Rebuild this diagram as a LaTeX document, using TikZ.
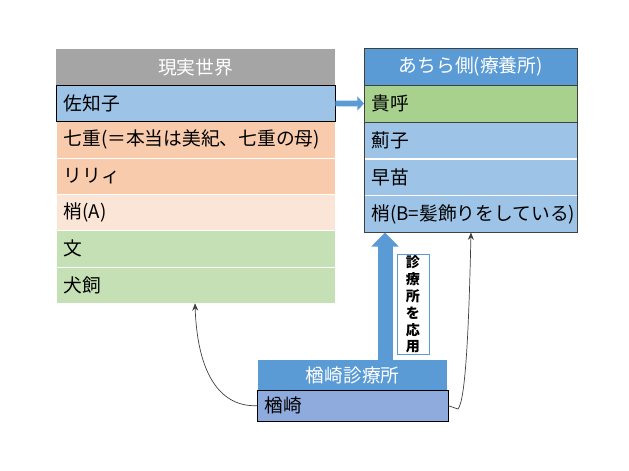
\documentclass[tikz,border=0pt]{standalone}
\usepackage{fontspec}
\setmainfont{Noto Sans CJK JP}
\usetikzlibrary{positioning,arrows.meta}
\definecolor{hdgray}{HTML}{A5A5A5}
\definecolor{hdblue}{HTML}{5B9BD5}
\definecolor{lblue}{HTML}{9DC3E6}
\definecolor{orng}{HTML}{F8CBAD}
\definecolor{lorng}{HTML}{FBE5D6}
\definecolor{lgreen}{HTML}{C5E0B4}
\definecolor{mgreen}{HTML}{A9D18E}
\definecolor{nblue}{HTML}{8FAADC}
\definecolor{edge}{HTML}{404040}
\tikzset{
  cell/.style={anchor=north west,inner xsep=0.22cm,align=left,font=\fontsize{16}{19}\selectfont},
  headcell/.style={anchor=north west,inner xsep=0pt,align=center,text=white,font=\fontsize{16}{19}\selectfont},
  thinarrow/.style={draw=edge,line width=0.6pt,-{Stealth[length=0.22cm,width=0.18cm]}},
}
\begin{document}
\begin{tikzpicture}[x=0.03cm,y=-0.03cm]
  \useasboundingbox (0,0) rectangle (629,470);
  \def\rh{36.3}

  \node[headcell,fill=hdgray,text width=8.37cm,minimum height=1.08cm] (lhead) at (56,49) {現実世界};
  \foreach \i/\lbl/\col in {1/七重(＝本当は美紀、七重の母)/orng,2/リリィ/orng,3/梢(A)/lorng,4/文/lgreen,5/犬飼/lgreen} {
    \node[cell,fill=\col,draw=white,text width=7.93cm,minimum height=1.09cm] (left\i) at (56,85+\i*\rh) {\lbl};
  }
  \node[cell,fill=lblue,draw=black,text width=7.93cm,minimum height=1.09cm] (left0) at (56,85) {佐知子};

  \node[headcell,fill=hdblue,text width=6.39cm,minimum height=1.11cm] (rhead) at (364,48) {あちら側(療養所)};
  \foreach \i/\lbl in {1/薊子,2/早苗,3/梢(B=髪飾りをしている)} {
    \node[cell,fill=lblue,draw=white,text width=5.95cm,minimum height=1.1cm] (right\i) at (364,85+\i*36.8) {\lbl};
  }
  \node[cell,fill=mgreen,draw=edge,text width=5.95cm,minimum height=1.1cm] (right0) at (364,85) {貴呼};
  \draw[edge,thick] (rhead.north west) rectangle (right3.south east);

  \node[headcell,fill=hdblue,text width=5.67cm,minimum height=0.9cm] (chead) at (258,360) {楢崎診療所};
  \node[cell,fill=nblue,draw=black,text width=5.29cm,minimum height=0.93cm] (nara) at (257,390) {楢崎};

  \node[draw=hdblue,fill=white,minimum width=0.96cm,minimum height=2.85cm,align=center,inner sep=1pt,
        font=\fontsize{12}{14.4}\selectfont\bfseries] (apply) at (413,304.5) {診\\療\\所\\を\\応\\用};

  \coordinate (ax) at (385,0);
  \draw[hdblue,line width=0.45cm,-{Triangle[length=0.42cm,width=0.8cm]}] (chead.north -| ax) -- (right3.south -| ax);
  \draw[hdblue,line width=0.17cm,-{Triangle[length=0.2cm,width=0.42cm]}] (left0.east) -- (right0.west);

  \coordinate (lt) at (195,0);
  \coordinate (rt) at (471,0);
  \draw[thinarrow] (nara.west) .. controls (215,407) and (197,365) .. (left5.south -| lt);
  \draw[thinarrow] (nara.east) -- (458,409) .. controls (466,400) and (469,320) .. (right3.south -| rt);
\end{tikzpicture}
\end{document}
